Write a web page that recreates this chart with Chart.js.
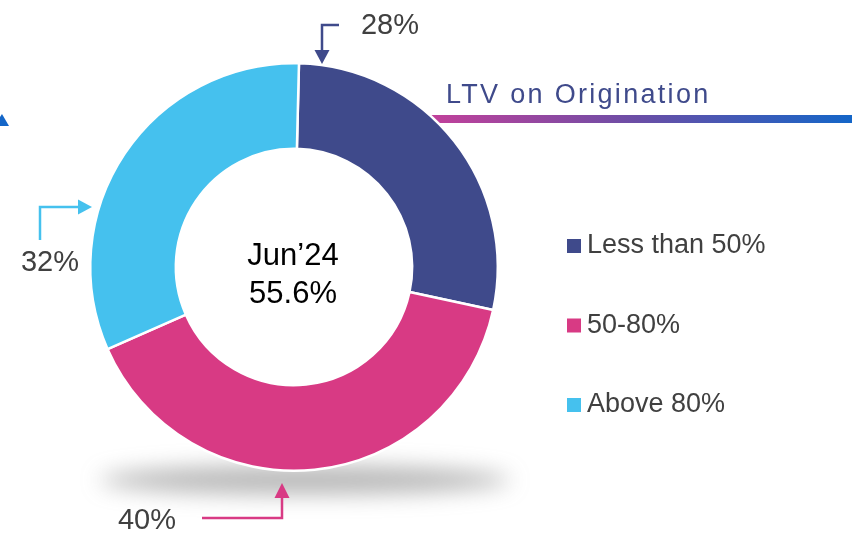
<!DOCTYPE html>
<html>
<head>
<meta charset="utf-8">
<script src="https://cdn.jsdelivr.net/npm/chart.js@4/dist/chart.umd.min.js"></script>
<style>
  html, body { margin: 0; padding: 0; background: #fff; }
  #wrap { width: 852px; height: 533px; position: relative; }
</style>
</head>
<body>
<div id="wrap"><canvas id="ltv" width="852" height="533"></canvas></div>
<script>
// LTV on origination, Jun'24
var categories = ['Less than 50%', '50-80%', 'Above 80%'];
var shares = [28, 40, 32];
var sliceColours = ['#3F4A8B', '#D83A84', '#45C1EE'];
var centreText = ['Jun\u201924', '55.6%'];
var heading = 'LTV on Origination';

var FONT = '"Liberation Sans", Arial, sans-serif';

// arrows pointing at each slice: label centre, elbow path, arrow tip
var callouts = [
    { text: [390, 26], path: [[339, 25], [322, 25], [322, 52]], head: [322, 64, 'down'] },
    { text: [147, 521], path: [[202, 518], [282, 518], [282, 497]], head: [282, 483, 'up'] },
    { text: [50, 263], path: [[40, 240], [40, 207], [78, 207]], head: [92, 207, 'right'] }
];

var backdrop = {
    id: 'backdrop',
    beforeDraw: function (chart) {
        var c = chart.ctx;
        c.save();
        // soft shadow under the ring
        c.filter = 'blur(11px)';
        c.fillStyle = 'rgba(110,110,110,0.5)';
        c.beginPath();
        c.ellipse(305, 480, 205, 14, 0, 0, Math.PI * 2);
        c.fill();
        c.filter = 'none';
        // heading rule
        var g = c.createLinearGradient(425, 0, 852, 0);
        g.addColorStop(0, '#C4409A');
        g.addColorStop(0.5, '#6A4EA6');
        g.addColorStop(1, '#1466C8');
        c.fillStyle = g;
        c.fillRect(425, 115, 427, 8);
        // small corner mark
        c.fillStyle = '#1466C8';
        c.beginPath();
        c.moveTo(-6, 126); c.lineTo(2, 114); c.lineTo(9, 126); c.closePath();
        c.fill();
        c.restore();
    },
    afterDraw: function (chart) {
        var c = chart.ctx;
        var ds = chart.data.datasets[0];
        c.save();
        c.fillStyle = '#3F4A8B';
        c.font = '27px ' + FONT;
        c.letterSpacing = '2.3px';
        c.textBaseline = 'alphabetic';
        c.textAlign = 'left';
        c.fillText(heading, 446, 103);
        c.letterSpacing = '0px';

        // centre text
        c.fillStyle = '#000';
        c.font = '31px ' + FONT;
        c.textAlign = 'center';
        c.fillText(centreText[0], 293, 265);
        c.fillText(centreText[1], 293, 303);

        // legend
        c.font = '27px ' + FONT;
        c.textAlign = 'left';
        c.textBaseline = 'middle';
        chart.data.labels.forEach(function (lab, i) {
            var y = 246 + i * 79.5;
            c.fillStyle = ds.backgroundColor[i];
            c.fillRect(567, y - 7, 14, 14);
            c.fillStyle = '#404040';
            c.fillText(lab, 587, y);
        });

        // callouts
        callouts.forEach(function (co, i) {
            var col = ds.backgroundColor[i];
            c.strokeStyle = col;
            c.fillStyle = col;
            c.lineWidth = 2.5;
            c.beginPath();
            co.path.forEach(function (p, k) { if (k === 0) c.moveTo(p[0], p[1]); else c.lineTo(p[0], p[1]); });
            c.stroke();
            var h = co.head, x = h[0], y = h[1];
            c.beginPath();
            if (h[2] === 'down') { c.moveTo(x - 7.5, y - 14); c.lineTo(x + 7.5, y - 14); c.lineTo(x, y); }
            if (h[2] === 'up') { c.moveTo(x - 7.5, y + 15); c.lineTo(x + 7.5, y + 15); c.lineTo(x, y); }
            if (h[2] === 'right') { c.moveTo(x - 14, y - 7.5); c.lineTo(x - 14, y + 7.5); c.lineTo(x, y); }
            c.closePath();
            c.fill();
            c.fillStyle = '#404040';
            c.font = '29px ' + FONT;
            c.textAlign = 'center';
            c.textBaseline = 'middle';
            c.fillText(ds.data[i] + '%', co.text[0], co.text[1]);
        });
        c.restore();
    }
};

var ctx = document.getElementById('ltv').getContext('2d');
var ltvChart = new Chart(ctx, {
    type: 'doughnut',
    data: {
        labels: categories,
        datasets: [{
            label: 'LTV on Origination',
            data: shares,
            backgroundColor: sliceColours,
            borderColor: '#ffffff',
            borderWidth: 2.5
        }]
    },
    options: {
        responsive: false,
        animation: false,
        cutout: '58%',
        rotation: 1.4,
        layout: { padding: { left: 89, right: 353, top: 62, bottom: 61 } },
        plugins: {
            legend: { display: false },
            tooltip: { enabled: false }
        }
    },
    plugins: [backdrop]
});
</script>
</body>
</html>
